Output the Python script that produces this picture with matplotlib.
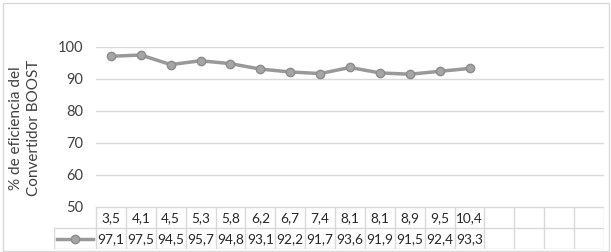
import matplotlib
matplotlib.use("Agg")
import matplotlib.pyplot as plt
from matplotlib.patches import Rectangle
from matplotlib.lines import Line2D

categories = ["3,5", "4,1", "4,5", "5,3", "5,8", "6,2", "6,7", "7,4", "8,1", "8,1", "8,9", "9,5", "10,4"]
values = [97.1, 97.5, 94.5, 95.7, 94.8, 93.1, 92.2, 91.7, 93.6, 91.9, 91.5, 92.4, 93.3]
n_empty = 4
yticks = [50, 60, 70, 80, 90, 100]
ylabel = "% de eficiencia del\nConvertidor BOOST"

plt.rcParams['font.family'] = ['Lato', 'DejaVu Sans']

W, H = 611, 252
fig = plt.figure(figsize=(W / 100, H / 100), dpi=100)

def fx(px):
    return px / W

def fy(py):
    return 1 - py / H

# outer frame
fig.add_artist(Rectangle((fx(2.5), fy(250.5)), fx(606), 248 / H, transform=fig.transFigure,
                         fill=False, edgecolor="#d9d9d9", linewidth=1))

ncols = len(categories) + n_empty
x_left, x_right = 96, 604
colw = (x_right - x_left) / ncols
y_top, y_bot = 47, 207

ax = fig.add_axes([fx(x_left), fy(y_bot), fx(x_right - x_left), (y_bot - y_top) / H])
ax.set_xlim(-0.5, ncols - 0.5)
ax.set_ylim(50, 100)
ax.set_yticks(yticks)
ax.set_xticks([])
for s in ax.spines.values():
    s.set_visible(False)
ax.grid(axis="y", color="#d9d9d9", linewidth=1)
ax.set_axisbelow(True)
ax.tick_params(axis="y", length=0, pad=9, labelsize=10.5, labelcolor="#404040")

xs = list(range(len(categories)))
ax.plot(xs, values, color="#999999", linewidth=2.5, marker="o", markersize=6,
        markerfacecolor="#a5a5a5", markeredgecolor="#8c8c8c", markeredgewidth=1, clip_on=False, zorder=3)

fig.text(fx(25), fy(128), ylabel, rotation=90, ha="center", va="center",
         fontsize=11, color="#404040", linespacing=1.3)

# data table
row1_top, row1_bot, row2_bot = 207, 228, 249
key_left = 54
tab_ax = fig.add_axes([fx(key_left), fy(row2_bot), fx(x_right - key_left), (row2_bot - row1_top) / H])
tab_ax.set_xlim(-0.5 - (x_left - key_left) / colw, ncols - 0.5)
tab_ax.set_ylim(row2_bot, row1_top)
tab_ax.axis("off")
lc = "#d9d9d9"
kx = -0.5 - (x_left - key_left) / colw
tab_ax.plot([-0.5, ncols - 0.5], [row1_top, row1_top], color=lc, lw=1)
tab_ax.plot([kx, ncols - 0.5], [row1_bot, row1_bot], color=lc, lw=1)
tab_ax.plot([kx, ncols - 0.5], [row2_bot, row2_bot], color=lc, lw=1)
for i in range(ncols + 1):
    tab_ax.plot([i - 0.5, i - 0.5], [row1_top, row2_bot], color=lc, lw=1)
tab_ax.plot([kx, kx], [row1_bot, row2_bot], color=lc, lw=1)
for i, (c, v) in enumerate(zip(categories, values)):
    tab_ax.text(i, (row1_top + row1_bot) / 2 + 0.5, c, ha="center", va="center", fontsize=9.8, color="#262626")
    tab_ax.text(i, (row1_bot + row2_bot) / 2 + 0.5, f"{v:.1f}".replace(".", ","), ha="center", va="center",
                fontsize=9.8, color="#262626")
# legend key
kmid = (kx + (-0.5)) / 2
tab_ax.add_line(Line2D([kx + 0.1, -0.6], [(row1_bot + row2_bot) / 2] * 2, color="#999999", lw=2.5))
tab_ax.plot([kmid], [(row1_bot + row2_bot) / 2], marker="o", markersize=6, color="#a5a5a5",
            markeredgecolor="#8c8c8c", markeredgewidth=1)

fig.savefig("out.png", dpi=100)
